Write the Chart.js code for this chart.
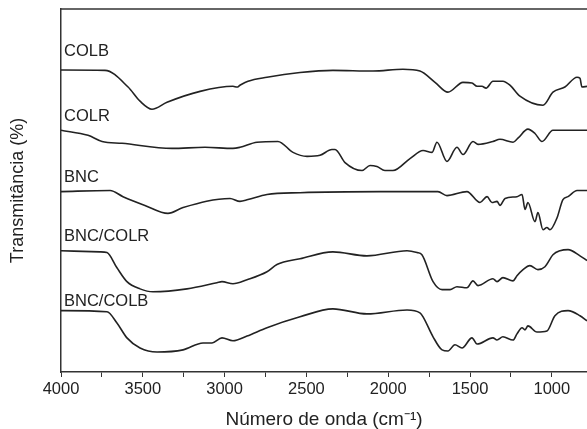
<!DOCTYPE html>
<html>
<head>
<meta charset="utf-8">
<script src="https://cdn.jsdelivr.net/npm/chart.js@4/dist/chart.umd.min.js"></script>
<style>
	body { margin: 0; background: #fff; overflow: hidden; }
</style>
</head>
<body>
<canvas id="ftir" width="587" height="429"></canvas>
<script>
// espectros FTIR (numero de onda, transmitancia deslocada)
let nomes = ['COLB', 'COLR', 'BNC', 'BNC/COLR', 'BNC/COLB'];
let nomesY = [88.3, 70.3, 53.6, 37.3, 19.3];

let colbX = [4000, 3731, 3590, 3517, 3444, 3352, 3150, 2949, 2924, 2906, 2857, 2741, 2539, 2338, 2093, 1910, 1806, 1714, 1635, 1543, 1488, 1457, 1427, 1402, 1360, 1299, 1256, 1195, 1054, 993, 920, 846, 828, 816, 785];
let colbY = [83.2, 83.1, 78.5, 74.6, 72.4, 74.3, 77.3, 78.7, 78.5, 79.0, 80.1, 81.2, 82.5, 83.1, 82.9, 83.4, 82.9, 79.8, 77.1, 79.8, 79.6, 78.7, 78.7, 78.2, 80.1, 80.1, 79.0, 76.0, 73.5, 77.1, 78.5, 81.2, 80.9, 78.5, 78.7];

let colrX = [4000, 3835, 3749, 3627, 3322, 3120, 2949, 2906, 2802, 2674, 2582, 2496, 2417, 2344, 2325, 2264, 2160, 2111, 2069, 2020, 1971, 1867, 1787, 1732, 1702, 1641, 1580, 1543, 1482, 1451, 1360, 1317, 1237, 1207, 1146, 1103, 1060, 993, 785];
let colrY = [66.6, 65.2, 63.5, 63.0, 61.6, 61.9, 61.6, 61.9, 63.3, 63.5, 60.5, 59.4, 59.7, 61.3, 61.3, 57.7, 55.5, 56.9, 56.6, 55.5, 55.5, 58.8, 61.0, 60.5, 63.3, 58.0, 61.9, 59.9, 63.5, 62.7, 63.5, 64.1, 63.3, 64.4, 66.9, 65.7, 63.5, 66.6, 66.6];

let bncX = [4000, 3700, 3621, 3487, 3346, 3254, 2967, 2906, 2857, 2741, 2539, 2050, 1696, 1641, 1519, 1439, 1396, 1366, 1335, 1317, 1286, 1213, 1182, 1164, 1146, 1103, 1085, 1054, 1030, 1011, 968, 932, 901, 846, 785];
let bncY = [49.7, 50.0, 48.3, 45.9, 43.7, 45.3, 47.8, 47.0, 47.5, 48.9, 49.4, 49.7, 49.7, 48.6, 49.7, 46.7, 48.3, 46.7, 47.0, 45.9, 47.8, 48.3, 48.9, 44.8, 46.7, 41.4, 43.9, 39.2, 39.8, 39.2, 42.5, 47.5, 48.3, 50.0, 50.0];

let bncColrX = [4000, 3762, 3719, 3658, 3597, 3517, 3438, 3230, 3047, 3016, 2949, 2863, 2741, 2680, 2539, 2338, 2130, 1885, 1824, 1794, 1726, 1671, 1622, 1580, 1519, 1482, 1451, 1360, 1335, 1299, 1237, 1213, 1176, 1134, 1085, 1042, 993, 950, 901, 828, 785];
let bncColrY = [33.4, 33.1, 32.9, 28.7, 24.9, 22.9, 22.1, 22.9, 24.6, 24.9, 24.3, 25.4, 27.6, 29.6, 31.2, 33.1, 32.0, 33.4, 32.9, 32.3, 24.9, 22.7, 22.7, 23.5, 23.2, 25.1, 23.8, 25.7, 24.9, 26.0, 25.1, 26.5, 28.2, 29.3, 28.2, 29.0, 32.3, 33.4, 33.7, 32.0, 30.7];

let bncColbX = [4000, 3719, 3658, 3597, 3517, 3413, 3254, 3132, 3077, 3016, 2949, 2863, 2741, 2539, 2338, 2130, 1885, 1806, 1787, 1726, 1671, 1635, 1592, 1549, 1488, 1457, 1360, 1335, 1299, 1237, 1213, 1182, 1164, 1146, 1091, 1030, 981, 901, 828, 785];
let bncColbY = [16.9, 16.6, 13.5, 9.4, 6.6, 5.5, 6.1, 8.0, 8.0, 9.4, 8.6, 9.9, 12.2, 15.2, 17.4, 16.0, 17.1, 16.3, 15.2, 9.7, 6.1, 5.8, 7.5, 6.6, 9.4, 7.7, 9.4, 8.8, 9.7, 8.8, 10.5, 12.2, 11.6, 12.7, 11.0, 11.3, 15.5, 16.9, 15.5, 14.1];

let xTicks = [4000, 3500, 3000, 2500, 2000, 1500, 1000];

let fonte = '"Liberation Sans", Arial, sans-serif';

function juntar(xs, ys){
	return xs.map((x, i) => {return {x: x, y: ys[i]}});
}

// borda de cima + nomes das amostras
const extras = {
	id: 'extras',
	afterDraw(chart){
		let ctx = chart.ctx;
		let area = chart.chartArea;
		ctx.save();
		ctx.strokeStyle = '#333';
		ctx.lineWidth = 1.5;
		ctx.beginPath();
		ctx.moveTo(area.left, area.top);
		ctx.lineTo(area.right, area.top);
		ctx.stroke();

		ctx.fillStyle = '#222';
		ctx.font = '16.5px ' + fonte;
		ctx.textBaseline = 'middle';
		ctx.textAlign = 'left';
		let xs = chart.scales.x;
		let ys = chart.scales.y;
		nomes.forEach((nome, i) => {
			ctx.fillText(nome, xs.getPixelForValue(4000) + 3, ys.getPixelForValue(nomesY[i]));
		});
		ctx.restore();
	}
};

let series = [juntar(colbX, colbY), juntar(colrX, colrY), juntar(bncX, bncY), juntar(bncColrX, bncColrY), juntar(bncColbX, bncColbY)];

let myChart;

function setupChart(){
	myChart = new Chart(document.getElementById('ftir'), {
		type: 'line',
		data: {
			datasets: series.map((s, i) => {
				return {label: nomes[i], data: s, borderColor: '#222', borderWidth: 1.6, pointRadius: 0, cubicInterpolationMode: 'monotone', fill: false};
			})
		},
		options: {
			responsive: false,
			animation: false,
			layout: {padding: {top: 9, right: 0, left: 0, bottom: 0}},
			plugins: {legend: {display: false}, tooltip: {enabled: false}},
			scales: {
				x: {
					type: 'linear',
					reverse: true,
					min: 785,
					max: 4000,
					afterFit: (scale) => {scale.height = 57},
					afterBuildTicks: (scale) => {
						let t = [];
						for(let v = 4000; v >= 785; v -= 250){ t.push({value: v}); }
						scale.ticks = t;
					},
					grid: {drawOnChartArea: false, tickLength: 5, color: '#333', tickColor: '#333'},
					border: {display: true, color: '#333', width: 1.5},
					ticks: {
						color: '#222',
						padding: 3,
						maxRotation: 0,
						autoSkip: false,
						font: {family: fonte, size: 16.5},
						callback: (v) => {return xTicks.includes(v) ? String(v) : ''}
					},
					title: {
						display: true,
						text: 'Número de onda (cm⁻¹)',
						color: '#222',
						font: {family: fonte, size: 19, lineHeight: 1},
						padding: {top: 0, bottom: 0}
					}
				},
				y: {
					min: 0,
					max: 100,
					afterFit: (scale) => {scale.width = 61},
					grid: {display: false},
					border: {display: true, color: '#333', width: 1.5},
					ticks: {display: false},
					title: {
						display: true,
						text: 'Transmitância (%)',
						color: '#222',
						font: {family: fonte, size: 18},
						padding: {top: 7, bottom: 0}
					}
				}
			}
		},
		plugins: [extras]
	});
}

setupChart();
</script>
</body>
</html>
